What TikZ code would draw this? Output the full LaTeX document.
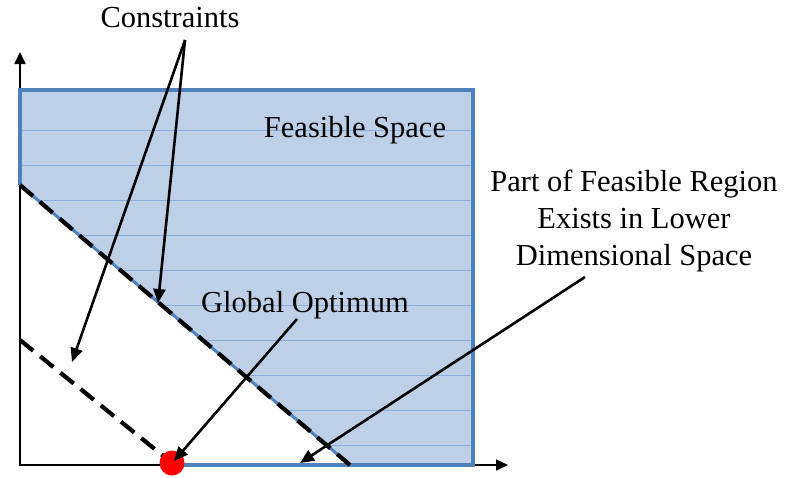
\documentclass[tikz,border=0pt]{standalone}
\usepackage{fontspec}
\setmainfont{Liberation Serif}
\usetikzlibrary{arrows.meta}
\definecolor{regionblue}{RGB}{79,129,189}
\definecolor{regionfill}{RGB}{190,208,231}
\definecolor{gridblue}{RGB}{140,174,218}
\tikzset{
  callout/.style={-{Triangle[length=14pt,width=12pt]},line width=2.6pt,black},
  limit/.style={line width=4.2pt,dash pattern=on 17pt off 9pt,black},
}
\begin{document}
\begin{tikzpicture}[x=1pt,y=-1pt,every node/.style={font=\fontsize{30.5}{37}\selectfont,inner sep=0pt}]
\useasboundingbox (0,0) rectangle (789,477);
% feasible space with faint horizontal rules
\fill[regionfill] (20,90) -- (473,90) -- (473,465) -- (350,465) -- (20,185) -- cycle;
\begin{scope}
\clip (20,90) -- (473,90) -- (473,465) -- (350,465) -- (20,185) -- cycle;
\foreach \y in {130,165,...,450} \draw[gridblue,line width=0.7pt] (20,\y) -- (473,\y);
\end{scope}
% axes
\draw[-{Triangle[length=12pt,width=11pt]},line width=1.6pt] (20,466) -- (20,52);
\draw[-{Triangle[length=12pt,width=11pt]},line width=1.6pt] (19,465) -- (508,465);
% region border
\draw[regionblue,line width=4pt,line join=miter] (20,185) -- (20,90) -- (473,90) -- (473,465) -- (172,465);
\draw[regionblue,line width=3pt] (20,185) -- (350,465);
% constraints
\draw[limit] (20,185) -- (350,465);
\draw[limit] (20,340) -- (172,463);
% optimum
\node[circle,fill=red,minimum size=25pt] (opt) at (172,463) {};
% labels
\node[anchor=base] (cons) at (170,27) {Constraints};
\node[anchor=base] (feas) at (355,137) {Feasible Space};
\node[anchor=base] (glob) at (305,312) {Global Optimum};
\node[anchor=north,align=center] (part) at (634,170) {Part of Feasible Region\\Exists in Lower\\Dimensional Space};
% arrow ends
\coordinate (apex) at (185,40);
\coordinate (cupper) at (158,303);
\coordinate (clower) at (72,362);
\coordinate (globfoot) at (297,319);
\coordinate (optin) at (174,461);
\coordinate (partfoot) at (585,277);
\coordinate (edge) at (300,463);
\foreach \target in {cupper,clower} \draw[callout] (apex) -- (\target);
\draw[callout] (globfoot) -- (optin);
\draw[callout] (partfoot) -- (edge);
\end{tikzpicture}
\end{document}
